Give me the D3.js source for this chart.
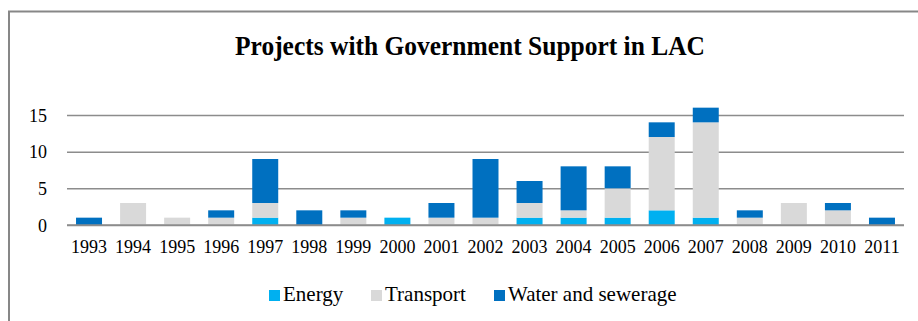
<!DOCTYPE html>
<html>
<head>
<meta charset="utf-8">
<script src="https://cdn.jsdelivr.net/npm/d3@7"></script>
<style>
  html, body { margin: 0; padding: 0; background: #fff; }
  svg { display: block; }
  text { font-family: "Liberation Serif", "Times New Roman", serif; fill: #000; }
</style>
</head>
<body>
<svg id="chart" width="918" height="321"></svg>
<script>
// Number of projects per year, by sector
const years = ["1993","1994","1995","1996","1997","1998","1999","2000","2001","2002",
               "2003","2004","2005","2006","2007","2008","2009","2010","2011"];
const energy    = [0, 0, 0, 0, 1, 0, 0, 1, 0, 0, 1, 1, 1, 2, 1, 0, 0, 0, 0];
const transport = [0, 3, 1, 1, 2, 0, 1, 0, 1, 1, 2, 1, 4, 10, 13, 1, 3, 2, 0];
const water     = [1, 0, 0, 1, 6, 2, 1, 0, 2, 8, 3, 6, 3, 2, 2, 1, 0, 1, 1];
const seriesNames = ["Energy", "Transport", "Water and sewerage"];
const seriesColors = ["#00B0F0", "#D9D9D9", "#0070C0"];
const yTicks = [0, 5, 10, 15];
const title = "Projects with Government Support in LAC";

const svg = d3.select("#chart");
const W = 918, H = 321;

// Outer frame (left and top edges visible)
svg.append("path")
  .attr("d", `M9,${H} L9,11.5 L${W},11.5`)
  .attr("fill", "none")
  .attr("stroke", "#878787")
  .attr("stroke-width", 2);

// Title, slightly condensed
svg.append("text")
  .attr("x", 470).attr("y", 55)
  .attr("text-anchor", "middle")
  .attr("font-size", 28)
  .attr("font-weight", "bold")
  .attr("textLength", 470)
  .attr("lengthAdjust", "spacingAndGlyphs")
  .text(title);

const plotLeft = 67, plotRight = 904, plotTop = 115, plotBottom = 225;

const x = d3.scaleBand()
  .domain(years)
  .range([plotLeft, plotRight])
  .paddingInner(0.41)
  .paddingOuter(0.205);

const y = d3.scaleLinear()
  .domain([0, 15])
  .range([plotBottom, plotTop]);

// Gridlines and value labels
const yAxis = d3.axisLeft(y)
  .tickValues(yTicks)
  .tickSize(-(plotRight - plotLeft))
  .tickPadding(20)
  .tickFormat(d3.format("d"));

const gy = svg.append("g")
  .attr("transform", `translate(${plotLeft},0)`)
  .call(yAxis);
gy.select(".domain").remove();
gy.selectAll(".tick line")
  .attr("stroke", "#8c8c8c")
  .attr("stroke-width", 1.5);
gy.selectAll(".tick text")
  .attr("font-family", "'Liberation Serif', 'Times New Roman', serif")
  .attr("font-size", 18)
  .attr("fill", "#000")
  .attr("dy", "0.34em");

// Stacked bars
const table = years.map((yr, i) => ({
  year: yr,
  "Energy": energy[i],
  "Transport": transport[i],
  "Water and sewerage": water[i]
}));
const stacked = d3.stack().keys(seriesNames)(table);

svg.append("g")
  .selectAll("g")
  .data(stacked)
  .join("g")
  .attr("fill", (d, i) => seriesColors[i])
  .selectAll("rect")
  .data(d => d.filter(s => s[1] - s[0] > 0))
  .join("rect")
  .attr("x", d => x(d.data.year))
  .attr("width", x.bandwidth())
  .attr("y", d => y(d[1]))
  .attr("height", d => y(d[0]) - y(d[1]));

// Baseline redrawn above bars
svg.append("line")
  .attr("x1", plotLeft).attr("x2", plotRight)
  .attr("y1", y(0)).attr("y2", y(0))
  .attr("stroke", "#8c8c8c")
  .attr("stroke-width", 1.5);

// Category labels
const xAxis = d3.axisBottom(x).tickSize(0).tickPadding(15);
const gx = svg.append("g")
  .attr("transform", `translate(0,${plotBottom})`)
  .call(xAxis);
gx.select(".domain").remove();
gx.selectAll(".tick text")
  .attr("font-family", "'Liberation Serif', 'Times New Roman', serif")
  .attr("font-size", 18)
  .attr("fill", "#000");

// Legend
const legendX = [269, 371, 494];
const legend = svg.append("g");
seriesNames.forEach((name, i) => {
  legend.append("rect")
    .attr("x", legendX[i]).attr("y", 290)
    .attr("width", 11).attr("height", 11)
    .attr("fill", seriesColors[i]);
  legend.append("text")
    .attr("x", legendX[i] + 14).attr("y", 301)
    .attr("font-size", 21)
    .text(name);
});
</script>
</body>
</html>
